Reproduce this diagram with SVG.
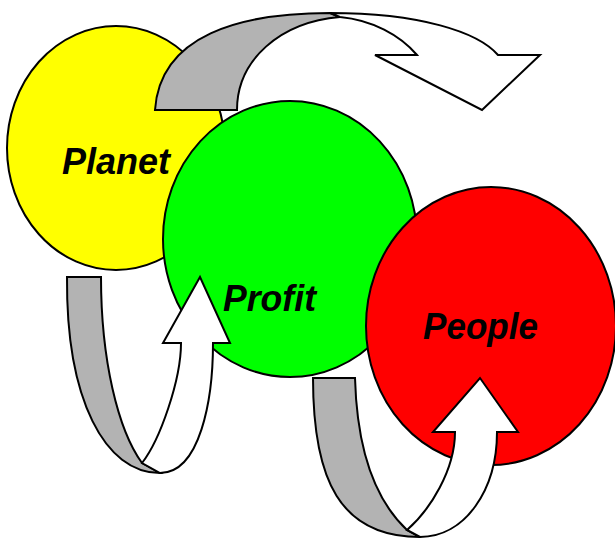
<svg xmlns="http://www.w3.org/2000/svg" width="615" height="538" viewBox="0 0 615 538">
<style>
.o{stroke:#000;stroke-width:2;stroke-linejoin:miter}
.g{fill:#b3b3b3}
.w{fill:#fff}
.t{font-family:"Liberation Sans",Arial,sans-serif;font-weight:bold;font-style:italic;font-size:36px;fill:#000}
</style>
<rect width="615" height="538" fill="#fff"/>
<g id="planet">
<ellipse class="o" cx="116" cy="148" rx="109" ry="122" fill="#ffff00"/>
</g>
<g id="connectors-top">
<path class="o g" d="M155,110 C160,35 240,13 330,13 L340,17 C280,22 237,60 237,110 Z"/>
<path class="o w" d="M330,13 C420,13 478,32 498,55 L540,55 L482,110 L375,55 L417,55 C400,35 372,20 340,17 Z"/>
</g>
<g id="profit">
<ellipse class="o" cx="290" cy="239" rx="127" ry="138" fill="#00ff00"/>
</g>
<g id="people">
<ellipse class="o" cx="491" cy="326" rx="125" ry="139" fill="#ff0000"/>
</g>
<g id="connectors">
<path class="o g" d="M67,277 L101,277 C101,360 118,430 142,463 L160,473 C105,473 66,400 67,277 Z"/>
<path class="o w" d="M142,463 C160,440 181,380 181,343 L163,343 L200,277 L230,343 L213,343 C213,400 200,473 160,473 Z"/>
<path class="o g" d="M313,378 L355,378 C357,450 375,500 407,530 L420,537 C340,537 313,480 313,378 Z"/>
<path class="o w" d="M407,530 C430,510 455,470 455,432 L433,432 L480,378 L518,432 L497,432 C497,490 465,537 420,537 Z"/>
</g>
<g id="labels">
<text class="t" x="62" y="174" textLength="108" lengthAdjust="spacingAndGlyphs">Planet</text>
<text class="t" x="223" y="311" textLength="93" lengthAdjust="spacingAndGlyphs">Profit</text>
<text class="t" x="423" y="339" textLength="115" lengthAdjust="spacingAndGlyphs">People</text>
</g>
</svg>
